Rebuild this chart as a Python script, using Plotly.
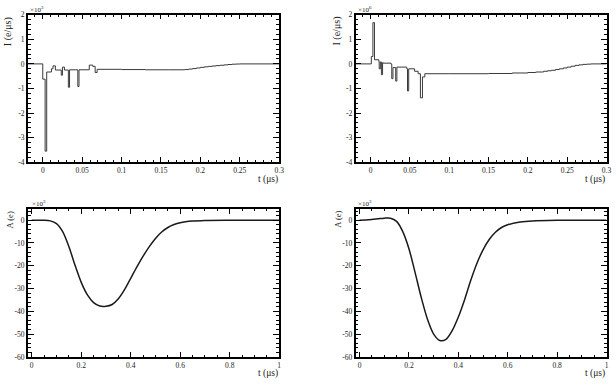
import plotly.graph_objects as go

# ---------------- data ----------------
# top-left: current histogram (step), units x10^3 e/us
tl_t = [-0.019, 0.0, 0.003, 0.005, 0.011, 0.013, 0.016, 0.0235, 0.025, 0.0275,
        0.0325, 0.034, 0.0445, 0.046, 0.059, 0.0635, 0.0665, 0.069,
        0.10, 0.13, 0.16, 0.18, 0.185, 0.19, 0.195, 0.20, 0.205, 0.21, 0.215, 0.22,
        0.225, 0.23, 0.235, 0.24, 0.245, 0.25, 0.30]
tl_I = [0.0, -0.62, -3.55, -0.33, -0.2, -0.08, -0.25, -0.46, -0.13, -0.25,
        -0.95, -0.24, -0.92, -0.24, -0.05, -0.1, -0.35, -0.22,
        -0.23, -0.24, -0.24, -0.23, -0.21, -0.19, -0.165, -0.14, -0.12, -0.1, -0.085, -0.07,
        -0.055, -0.04, -0.025, -0.012, -0.005, 0.0, 0.0]

# top-right: current histogram (step)
tr_t = [-0.019, 0.001, 0.003, 0.005, 0.0105, 0.011, 0.0125, 0.0138, 0.0153, 0.016,
        0.026, 0.027, 0.0285, 0.032, 0.0335, 0.046, 0.047, 0.0485, 0.056, 0.0605,
        0.0634, 0.066, 0.069, 0.10, 0.15, 0.18, 0.20, 0.21, 0.22, 0.225, 0.23, 0.235,
        0.24, 0.245, 0.25, 0.255, 0.26, 0.265, 0.27, 0.275, 0.28, 0.30]
tr_I = [0.0, 0.3, 1.68, 0.17, 0.1, -0.2, 0.08, -0.44, 0.05, 0.03,
        -0.01, -0.6, -0.15, -0.7, -0.13, -0.2, -1.1, -0.2, -0.3, -0.4,
        -1.38, -0.53, -0.4, -0.4, -0.39, -0.37, -0.35, -0.33, -0.3, -0.28, -0.26, -0.23,
        -0.2, -0.165, -0.13, -0.095, -0.06, -0.04, -0.02, -0.01, 0.0, 0.0]

# bottom-left: amplitude, units x10^3 e
bl_t = [0.0, 0.05, 0.075, 0.1, 0.125, 0.15, 0.175, 0.2, 0.225, 0.25, 0.275, 0.3,
        0.325, 0.35, 0.375, 0.4, 0.425, 0.45, 0.475, 0.5, 0.525, 0.55, 0.575, 0.6,
        0.65, 0.7, 0.8, 0.9, 1.0]
bl_A = [0.0, 0.0, -0.3, -1.5, -5.0, -11.5, -19.8, -27.3, -32.8, -36.2, -37.7, -37.8,
        -37.0, -34.5, -30.5, -25.5, -20.5, -15.8, -11.6, -8.0, -5.2, -3.2, -1.9, -1.1,
        -0.4, -0.15, -0.03, 0.0, 0.0]

# bottom-right: amplitude, units x10^3 e
br_t = [0.0, 0.025, 0.05, 0.075, 0.1, 0.125, 0.15, 0.175, 0.2, 0.225, 0.25, 0.275,
        0.3, 0.325, 0.35, 0.375, 0.4, 0.425, 0.45, 0.475, 0.5, 0.525, 0.55, 0.575,
        0.6, 0.65, 0.7, 0.8, 0.9, 1.0]
br_A = [0.0, 0.1, 0.3, 0.6, 0.9, 0.9, -0.5, -5.0, -12.5, -23.0, -34.0, -43.5,
        -50.0, -52.8, -52.3, -48.5, -42.5, -35.0, -26.5, -19.0, -13.0, -8.5, -5.3, -3.2,
        -2.0, -0.8, -0.3, -0.05, 0.0, 0.0]

top_yticks = [-4, -3, -2, -1, 0, 1, 2]
top_ylabels = ["-4", "-3", "-2", "-1", "0", "1", "2"]
bot_yticks = [-60, -50, -40, -30, -20, -10, 0]
bot_ylabels = ["-60", "-50", "-40", "-30", "-20", "-10", "0"]

W, H = 616, 386
FONT = "Liberation Serif"

def px(x):
    return x / W

def py(y):
    return 1 - y / H

fig = go.Figure()

fig.add_trace(go.Scatter(x=tl_t, y=tl_I, mode="lines", line=dict(shape="hv", color="#3a3a3a", width=1),
                         xaxis="x", yaxis="y", showlegend=False))
fig.add_trace(go.Scatter(x=tr_t, y=tr_I, mode="lines", line=dict(shape="hv", color="#3a3a3a", width=1),
                         xaxis="x2", yaxis="y2", showlegend=False))
fig.add_trace(go.Scatter(x=bl_t, y=bl_A, mode="lines",
                         line=dict(shape="spline", smoothing=0.8, color="#1a1a1a", width=1.5),
                         xaxis="x3", yaxis="y3", showlegend=False))
fig.add_trace(go.Scatter(x=br_t, y=br_A, mode="lines",
                         line=dict(shape="spline", smoothing=0.8, color="#1a1a1a", width=1.5),
                         xaxis="x4", yaxis="y4", showlegend=False))

tickfont = dict(family=FONT, size=7.5, color="#222")

def xax(dom, rng, dtick, mdtick, anchor):
    return dict(domain=dom, range=rng, anchor=anchor, tick0=0, dtick=dtick,
                ticks="inside", ticklen=5, tickwidth=1, tickcolor="black",
                minor=dict(ticks="inside", ticklen=2.5, dtick=mdtick, tick0=0, tickcolor="black", tickwidth=1),
                showline=True, linecolor="black", linewidth=1.5, mirror="ticks",
                showgrid=False, zeroline=False, tickfont=tickfont)

def yax(dom, rng, tv, tt, mdtick, anchor):
    return dict(domain=dom, range=rng, anchor=anchor, tickvals=tv, ticktext=tt,
                ticks="inside", ticklen=6, tickwidth=1, tickcolor="black",
                minor=dict(ticks="inside", ticklen=3, dtick=mdtick, tick0=0, tickcolor="black", tickwidth=1),
                showline=True, linecolor="black", linewidth=1.5, mirror="ticks",
                showgrid=False, zeroline=False, tickfont=tickfont)

L1 = [px(28), px(281.5)]
L2 = [px(358.5), px(611.5)]
T = [py(162), py(11)]
B = [py(361.3), py(209.7)]

fig.update_layout(
    width=W, height=H, margin=dict(l=0, r=0, t=0, b=0),
    paper_bgcolor="white", plot_bgcolor="white",
    xaxis=xax(L1, [-0.019, 0.3], 0.05, 0.01, "y"),
    yaxis=yax(T, [-4, 2], top_yticks, top_ylabels, 0.2, "x"),
    xaxis2=xax(L2, [-0.019, 0.3], 0.05, 0.01, "y2"),
    yaxis2=yax(T, [-4, 2], top_yticks, top_ylabels, 0.2, "x2"),
    xaxis3=xax(L1, [-0.016, 1.0], 0.2, 0.05, "y3"),
    yaxis3=yax(B, [-60, 5], bot_yticks, bot_ylabels, 2, "x3"),
    xaxis4=xax(L2, [-0.016, 1.0], 0.2, 0.05, "y4"),
    yaxis4=yax(B, [-60, 5], bot_yticks, bot_ylabels, 2, "x4"),
)

ann = []
def text(x, y, s, size, xanchor="left", yanchor="middle", angle=0):
    ann.append(dict(x=px(x), y=py(y), xref="paper", yref="paper", text=s, showarrow=False,
                    xanchor=xanchor, yanchor=yanchor, textangle=angle,
                    font=dict(family=FONT, size=size, color="#222")))

# x titles
text(282, 180, "t (μs)", 9.5, xanchor="right")
text(612, 180, "t (μs)", 9.5, xanchor="right")
text(282, 378, "t (μs)", 9.5, xanchor="right")
text(612, 378, "t (μs)", 9.5, xanchor="right")
# y titles
text(8, 11, "I (e/μs)", 10, xanchor="center", yanchor="top", angle=-90)
text(340, 11, "I (e/μs)", 10, xanchor="center", yanchor="top", angle=-90)
text(10, 210, "A (e)", 8.5, xanchor="center", yanchor="top", angle=-90)
text(340, 210, "A (e)", 8.5, xanchor="center", yanchor="top", angle=-90)
# exponents
text(28, 6, "×10<sup>3</sup>", 7)
text(358.5, 6, "×10<sup>6</sup>", 7)
text(30, 204, "×10<sup>3</sup>", 7)
text(358.5, 204, "×10<sup>3</sup>", 7)

fig.update_layout(annotations=ann)
fig.write_html("out.html")
